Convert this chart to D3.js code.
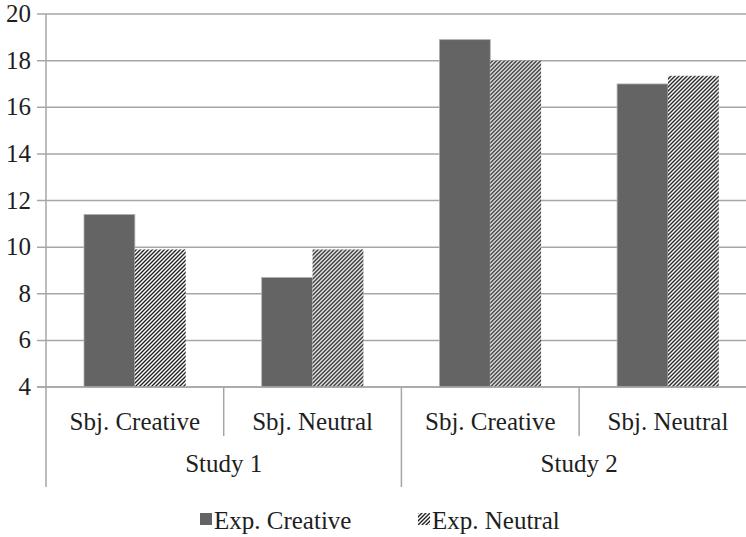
<!DOCTYPE html>
<html>
<head>
<meta charset="utf-8">
<script src="https://cdn.jsdelivr.net/npm/d3@7"></script>
<style>
  body { margin: 0; background: #fff; }
</style>
</head>
<body>
<div id="chart"></div>
<script>
var studies = ["Study 1", "Study 2"];
var subjects = ["Sbj. Creative", "Sbj. Neutral"];
var series = ["Exp. Creative", "Exp. Neutral"];
var expCreative = [11.4, 8.7, 18.9, 17.0];
var expNeutral = [9.9, 9.9, 18.0, 17.35];
var yTicks = [4, 6, 8, 10, 12, 14, 16, 18, 20];

var width = 746, height = 537;
var plotLeft = 46, plotTop = 14, plotBottom = 387;
var catWidth = 177.7;
var fontSize = 25;
var fontFamily = "'Liberation Serif', 'Times New Roman', Times, 'DejaVu Serif', serif";
var gridColour = "#a6a6a6";
var textColour = "#1e1e1e";

// one entry per (study, subject)
var cats = [];
studies.forEach(function(s) {
    subjects.forEach(function(sb) {
        cats.push(s + "|" + sb);
    });
});

var svg = d3.select("#chart")
  .append("svg")
  .attr("width", width)
  .attr("height", height)
  .attr("font-family", fontFamily);

var defs = svg.append("defs");
var pat = defs.append("pattern")
  .attr("id", "hatch")
  .attr("patternUnits", "userSpaceOnUse")
  .attr("width", 4)
  .attr("height", 4);
pat.append("rect").attr("width", 4).attr("height", 4).attr("fill", "#fff");
pat.append("path")
  .attr("d", "M-1,1 l2,-2 M0,4 l4,-4 M3,5 l2,-2")
  .attr("stroke", "#222")
  .attr("stroke-width", 1.4);

var x = d3.scaleBand()
  .domain(cats)
  .range([plotLeft, plotLeft + catWidth * cats.length])
  .paddingInner(0)
  .paddingOuter(0);

var inner = d3.scaleBand()
  .domain(series)
  .range([38, catWidth - 38]);

var y = d3.scaleLinear()
  .domain([4, 20])
  .range([plotBottom, plotTop]);

// gridlines + tick marks
svg.append("g")
  .selectAll("line")
  .data(yTicks)
  .join("line")
  .attr("x1", plotLeft - 9)
  .attr("x2", width)
  .attr("y1", function(d) { return y(d); })
  .attr("y2", function(d) { return y(d); })
  .attr("stroke", gridColour)
  .attr("stroke-width", 1.5);

// y labels
svg.append("g")
  .selectAll("text")
  .data(yTicks)
  .join("text")
  .attr("x", 31)
  .attr("y", function(d) { return y(d) + 8; })
  .attr("text-anchor", "end")
  .attr("font-size", fontSize + "px")
  .attr("fill", textColour)
  .text(function(d) { return d; });

// bars
var groups = svg.append("g")
  .selectAll("g")
  .data(cats)
  .join("g")
  .attr("transform", function(d) { return "translate(" + x(d) + ",0)"; });

groups.append("rect")
  .attr("x", inner(series[0]))
  .attr("width", inner.bandwidth())
  .attr("y", function(d, i) { return y(expCreative[i]); })
  .attr("height", function(d, i) { return plotBottom - y(expCreative[i]); })
  .attr("fill", "#646464")
  .attr("stroke", "#b0b0b0")
  .attr("stroke-width", 0.8);

groups.append("rect")
  .attr("x", inner(series[1]))
  .attr("width", inner.bandwidth())
  .attr("y", function(d, i) { return y(expNeutral[i]); })
  .attr("height", function(d, i) { return plotBottom - y(expNeutral[i]); })
  .attr("fill", "url(#hatch)");

// y axis line
svg.append("line")
  .attr("x1", plotLeft).attr("x2", plotLeft)
  .attr("y1", plotTop).attr("y2", 487)
  .attr("stroke", gridColour)
  .attr("stroke-width", 1.5);

// x axis line
svg.append("line")
  .attr("x1", plotLeft - 9).attr("x2", width)
  .attr("y1", plotBottom).attr("y2", plotBottom)
  .attr("stroke", gridColour)
  .attr("stroke-width", 1.5);

// category separators
cats.forEach(function(c, i) {
    if (i == 0) return;
    var studyEdge = (i % subjects.length == 0);
    svg.append("line")
      .attr("x1", x(c)).attr("x2", x(c))
      .attr("y1", plotBottom).attr("y2", studyEdge ? 487 : 436)
      .attr("stroke", gridColour)
      .attr("stroke-width", 1.5);
});

// subject labels
svg.append("g")
  .selectAll("text")
  .data(cats)
  .join("text")
  .attr("x", function(d) { return x(d) + x.bandwidth() / 2; })
  .attr("y", 430)
  .attr("text-anchor", "middle")
  .attr("font-size", fontSize + "px")
  .attr("fill", textColour)
  .text(function(d) { return d.split("|")[1]; });

// study labels
svg.append("g")
  .selectAll("text")
  .data(studies)
  .join("text")
  .attr("x", function(d) {
      return x(d + "|" + subjects[0]) + x.bandwidth() * subjects.length / 2;
  })
  .attr("y", 472)
  .attr("text-anchor", "middle")
  .attr("font-size", fontSize + "px")
  .attr("fill", textColour)
  .text(function(d) { return d; });

// legend
var legendX = [200, 418];
var legend = svg.append("g")
  .selectAll("g")
  .data(series)
  .join("g")
  .attr("transform", function(d, i) { return "translate(" + legendX[i] + ",513)"; });

legend.append("rect")
  .attr("width", 12)
  .attr("height", 12)
  .attr("fill", function(d, i) { return i == 0 ? "#646464" : "url(#hatch)"; });

legend.append("text")
  .attr("x", 14)
  .attr("y", 16)
  .attr("font-size", fontSize + "px")
  .attr("fill", textColour)
  .text(function(d) { return d; });
</script>
</body>
</html>
